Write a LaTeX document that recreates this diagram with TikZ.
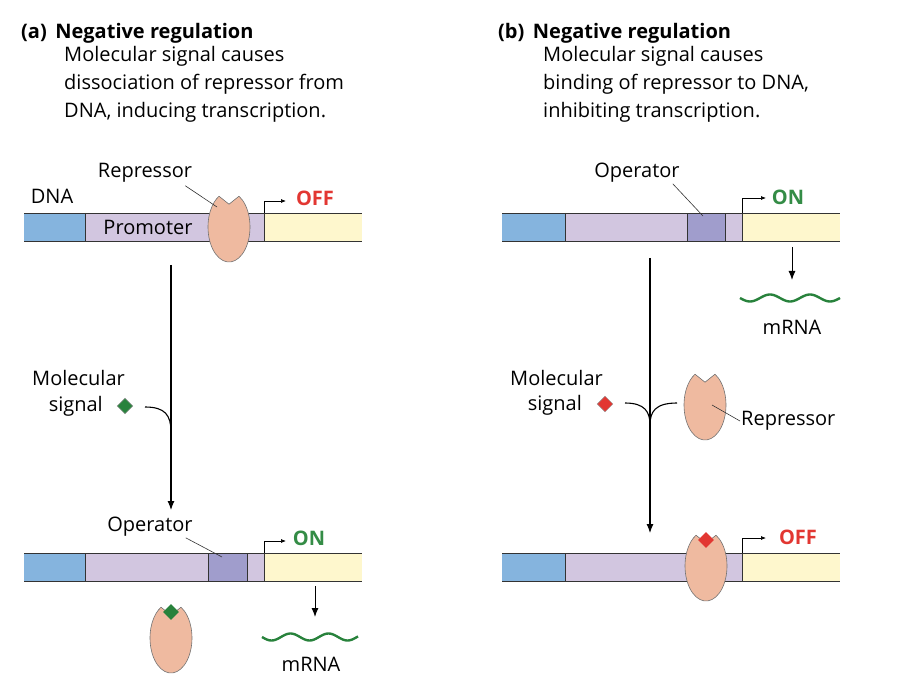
\documentclass[tikz,border=0pt]{standalone}
\usepackage{fontspec}
\setmainfont{Open Sans}
\usetikzlibrary{arrows.meta,calc}
\definecolor{dnablue}{RGB}{133,180,222}
\definecolor{promoter}{RGB}{210,198,224}
\definecolor{operator}{RGB}{160,157,204}
\definecolor{gene}{RGB}{254,247,205}
\definecolor{repcol}{RGB}{239,186,160}
\definecolor{offred}{RGB}{226,55,50}
\definecolor{ongreen}{RGB}{52,140,70}
\definecolor{siggreen}{RGB}{40,130,60}
\tikzstyle{txt}=[font=\fontsize{20}{27}\selectfont, inner sep=1pt]
\tikzstyle{bold}=[font=\fontsize{20}{27}\selectfont\bfseries, inner sep=1pt]
\tikzstyle{head}=[font=\fontsize{20}{27}\selectfont\bfseries, inner sep=1pt, anchor=west]
\tikzstyle{body}=[font=\fontsize{20}{28}\selectfont, inner sep=1pt, anchor=north west, align=left]
\tikzstyle{seg}=[draw=black!80, line width=0.8pt]
\tikzstyle{lbl}=[draw=black!80, line width=0.6pt]
\tikzstyle{flow}=[draw, line width=1.1pt, -{Latex[length=9pt,width=7pt]}]
\tikzstyle{tss}=[draw, line width=0.7pt, -{Latex[length=5pt,width=4pt]}]
\tikzstyle{rep}=[fill=repcol, draw=black!55, line width=0.6pt]
\tikzstyle{wave}=[draw=siggreen, line width=2.4pt]
% repressor with notch, centre (#1,#2)
\newcommand{\repr}[2]{
  \path[rep] ($(#1,#2)+(-61.6:21 and 35)$) arc[start angle=-61.6, end angle=241.6, x radius=21, y radius=35]
    -- ++(10,8) -- cycle;
}
\newcommand{\strip}[5]{% y, x0, x1 (blue end), x2 (purple end), x3 (end)
  \path[fill=dnablue] (#2,#1) rectangle (#3,#1+28);
  \path[fill=promoter] (#3,#1) rectangle (#4,#1+28);
  \path[fill=gene] (#4,#1) rectangle (#5,#1+28);
  \draw[seg] (#2,#1) -- (#5,#1) (#2,#1+28) -- (#5,#1+28) (#3,#1) -- (#3,#1+28) (#4,#1) -- (#4,#1+28);
}
\begin{document}
\begin{tikzpicture}[x=1pt,y=-1pt]
\useasboundingbox (0,0) rectangle (918,700);

% ---- (a)
\node[head] (ha) at (20,33) {(a)\, Negative regulation};
\node[body] (ba) at (63,45) {Molecular signal causes\\dissociation of repressor from\\DNA, inducing transcription.};

\strip{213}{24}{85}{264}{362}
\node[txt] (dna) at (52,196) {DNA};
\node[txt] (prom) at (148,227) {Promoter};
\repr{229}{227}
\coordinate (r1) at (229,227);
\node[txt] (rl1) at (145,173) {Repressor};
\draw[lbl] ($(rl1.south east)+(-8,2)$) -- ($(r1)+(-12,-20)$);
\draw[tss] (264,213) -- (264,201) -- (286,201);
\node[bold, text=offred] (off1) at (315,198) {OFF};

\coordinate (a1) at (171,265);
\coordinate (a2) at (171,510);
\draw[flow] (a1) -- (a2);
\node[txt, anchor=east] (ms1) at (126,378) {Molecular};
\node[txt, anchor=east] (sg1) at (104,406) {signal};
\node[fill=siggreen, draw=black!40, minimum size=11pt, inner sep=0pt, rotate=45] (d1) at (125,406) {};
\draw[line width=1.1pt] (145,407) .. controls (165,407) and (171,415) .. (171,432);

\strip{553}{24}{85}{264}{362}
\draw[seg, fill=operator] (208,553) rectangle (247,581);
\node[txt] (op1) at (150,527) {Operator};
\draw[lbl] ($(op1.south east)+(-8,0)$) -- (222,557);
\draw[tss] (264,553) -- (264,541) -- (286,541);
\node[bold, text=ongreen] (on1) at (309,538) {ON};
\repr{171}{638}
\node[fill=siggreen, minimum size=11pt, inner sep=0pt, rotate=45] (d2) at (171,612) {};
\draw[flow, line width=1pt] (315,586) -- (315,617);
\draw[wave] plot[domain=262:358, samples=60, smooth] (\x, {637+3.5*sin(9.474*(\x-262))});
\node[txt] (m1) at (311,664) {mRNA};

% ---- (b)
\node[head] (hb) at (497,33) {(b)\, Negative regulation};
\node[body] (bb) at (542,45) {Molecular signal causes\\binding of repressor to DNA,\\inhibiting transcription.};

\strip{213}{502}{565}{742}{840}
\draw[seg, fill=operator] (687,213) rectangle (725,241);
\node[txt] (op2) at (637,173) {Operator};
\draw[lbl] ($(op2.south east)+(-8,0)$) -- (703,216);
\draw[tss] (742,213) -- (742,198) -- (766,198);
\node[bold, text=ongreen] (on2) at (788,197) {ON};
\draw[flow, line width=1pt] (792,247) -- (792,280);
\draw[wave] plot[domain=740:840, samples=60, smooth] (\x, {298+3.5*sin(9*(\x-740))});
\node[txt] (m2) at (792,327) {mRNA};

\coordinate (b1) at (650,258);
\coordinate (b2) at (650,533);
\draw[flow] (b1) -- (b2);
\node[txt, anchor=east] (ms2) at (604,378) {Molecular};
\node[txt, anchor=east] (sg2) at (583,405) {signal};
\node[fill=offred, draw=black!40, minimum size=11pt, inner sep=0pt, rotate=45] (d3) at (605,404) {};
\draw[line width=1.1pt] (625,403) .. controls (645,403) and (650,412) .. (650,425);
\draw[line width=1.1pt] (677,403) .. controls (655,403) and (650,412) .. (650,425);
\repr{705}{405}
\node[txt, anchor=west] (rl2) at (740,421) {Repressor};
\draw[lbl] (712,405) -- (rl2.west);

\strip{553}{502}{565}{742}{840}
\repr{706}{566}
\node[fill=offred, minimum size=11pt, inner sep=0pt, rotate=45] (d4) at (706,540) {};
\draw[tss] (742,553) -- (742,538) -- (766,538);
\node[bold, text=offred] (off2) at (798,537) {OFF};
\end{tikzpicture}
\end{document}
